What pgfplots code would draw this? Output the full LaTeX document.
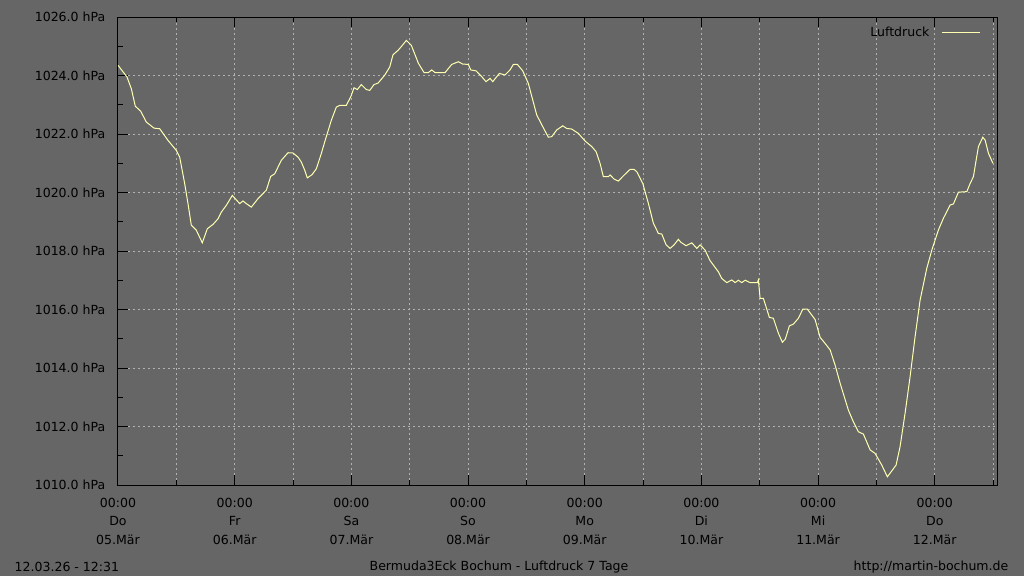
\documentclass[border=0pt]{standalone}
\usepackage{pgfplots}
\pgfplotsset{compat=1.18}
\usepackage{fontspec}
\setmainfont{DejaVu Sans}

\definecolor{bg}{RGB}{102,102,102}
\definecolor{gridc}{RGB}{178,178,178}
\definecolor{druck}{RGB}{255,255,176}

% Luftdruck, x in Stunden ab Do 05.03. 00:00
\newcommand\druckdaten{
(0.00,1024.35) (1.85,1023.95) (2.74,1023.55) (3.56,1022.95) (4.67,1022.78)
(5.82,1022.41) (7.41,1022.20) (8.58,1022.18) (10.29,1021.78) (11.99,1021.44)
(12.69,1021.21) (13.72,1020.30) (14.40,1019.62) (15.08,1018.88) (16.11,1018.71)
(17.34,1018.28) (18.37,1018.76) (19.54,1018.91) (20.57,1019.10) (21.25,1019.33)
(22.28,1019.56) (23.51,1019.90) (25.03,1019.62) (25.71,1019.71) (26.39,1019.62)
(27.42,1019.50) (28.80,1019.79) (30.51,1020.08) (31.41,1020.55) (32.24,1020.64)
(33.59,1021.10) (34.97,1021.36) (36.00,1021.35) (37.03,1021.21) (37.71,1021.04)
(38.41,1020.76) (38.94,1020.50) (39.91,1020.61) (40.79,1020.81) (41.70,1021.27)
(42.52,1021.73) (43.88,1022.47) (44.91,1022.92) (45.61,1022.98) (46.96,1022.98)
(47.87,1023.27) (48.55,1023.58) (49.23,1023.52) (50.05,1023.69) (51.08,1023.52)
(51.78,1023.49) (52.66,1023.69) (53.49,1023.74) (54.86,1024.01) (55.89,1024.29)
(56.57,1024.71) (57.60,1024.86) (58.28,1024.99) (59.31,1025.20) (60.34,1025.03)
(61.78,1024.42) (62.95,1024.10) (63.83,1024.10) (64.53,1024.19) (65.21,1024.10)
(67.27,1024.10) (68.65,1024.38) (70.00,1024.47) (70.91,1024.39) (72.06,1024.38)
(72.56,1024.19) (73.65,1024.16) (74.82,1023.96) (75.70,1023.79) (76.53,1023.90)
(77.08,1023.79) (78.44,1024.07) (79.61,1024.02) (80.64,1024.19) (81.32,1024.38)
(82.14,1024.38) (83.25,1024.16) (84.40,1023.73) (85.31,1023.16) (86.13,1022.65)
(87.37,1022.25) (88.52,1021.89) (89.22,1021.91) (90.25,1022.14) (91.48,1022.28)
(92.30,1022.19) (93.33,1022.17) (94.69,1022.02) (96.07,1021.76) (97.45,1021.57)
(98.33,1021.40) (99.15,1021.00) (99.83,1020.54) (100.86,1020.54) (101.21,1020.60)
(102.03,1020.46) (102.92,1020.39) (103.95,1020.57) (105.33,1020.79) (106.15,1020.79)
(106.71,1020.71) (107.94,1020.31) (109.09,1019.63) (110.12,1018.95) (111.15,1018.60)
(111.85,1018.58) (112.74,1018.21) (113.56,1018.09) (114.38,1018.21) (115.26,1018.40)
(115.76,1018.30) (116.85,1018.18) (118.02,1018.28) (119.05,1018.09) (119.73,1018.21)
(120.75,1018.03) (121.78,1017.67) (123.49,1017.29) (124.19,1017.06) (125.22,1016.92)
(126.25,1017.01) (126.93,1016.92) (127.60,1017.00) (128.30,1016.92) (129.00,1017.00)
(129.60,1016.95) (130.03,1016.92) (131.51,1016.92) (131.72,1017.01) (132.07,1016.38)
(132.75,1016.38) (133.98,1015.73) (134.80,1015.70) (135.83,1015.19) (136.65,1014.88)
(137.27,1014.99) (138.09,1015.44) (138.92,1015.50) (139.95,1015.70) (140.85,1016.01)
(141.80,1016.01) (143.38,1015.66) (144.41,1015.05) (145.44,1014.84) (146.47,1014.62)
(147.50,1014.10) (148.53,1013.48) (150.23,1012.56) (151.26,1012.16) (152.29,1011.82)
(153.32,1011.74) (154.70,1011.20) (155.73,1011.08) (157.10,1010.68) (158.25,1010.28)
(160.04,1010.68) (160.86,1011.31) (161.89,1012.45) (162.92,1013.70) (163.95,1015.07)
(164.98,1016.32) (166.36,1017.41) (167.39,1018.03) (168.75,1018.72) (169.78,1019.12)
(171.15,1019.57) (171.84,1019.61) (172.86,1020.01) (174.59,1020.03) (175.27,1020.31)
(175.95,1020.54) (176.51,1021.11) (176.98,1021.57) (177.88,1021.89) (178.36,1021.79)
(179.04,1021.34) (179.95,1021.00)
}

\begin{document}
\begin{tikzpicture}[x=0.75pt,y=0.75pt,font=\fontsize{9.4pt}{13.9pt}\selectfont]
\fill[bg] (0,0) rectangle (1024,576);
\begin{axis}[
    at={(88.5pt,68.25pt)}, anchor=south west,
    scale only axis, width=659.25pt, height=351pt,
    xmin=0, xmax=180.8, ymin=1010, ymax=1026,
    axis background/.style={fill=bg},
    axis line style={black, line width=0.75pt},
    tick style={black, line width=0.75pt},
    tick align=inside,
    xtick pos=both, ytick pos=left,
    major tick length=7.5pt, minor tick length=3.75pt,
    xtick={0,24,...,168},
    minor xtick={12,36,...,180},
    xticklabels={{00:00\\Do\\05.Mär},{00:00\\Fr\\06.Mär},{00:00\\Sa\\07.Mär},
      {00:00\\So\\08.Mär},{00:00\\Mo\\09.Mär},{00:00\\Di\\10.Mär},
      {00:00\\Mi\\11.Mär},{00:00\\Do\\12.Mär}},
    xticklabel style={align=center, yshift=-6pt},
    ytick={1010,1012,...,1026},
    minor ytick={1011,1013,...,1025},
    yticklabels={1010.0 hPa,1012.0 hPa,1014.0 hPa,1016.0 hPa,1018.0 hPa,
      1020.0 hPa,1022.0 hPa,1024.0 hPa,1026.0 hPa},
    yticklabel style={xshift=-6pt},
    xmajorgrids, xminorgrids, ymajorgrids,
    major grid style={gridc, line width=0.75pt, dash pattern=on 1.5pt off 2.25pt},
    minor grid style={gridc, line width=0.75pt, dash pattern=on 1.5pt off 2.25pt},
    legend plot pos=right,
    legend style={draw=none, fill=none, at={(0.986,0.966)}, anchor=east,
      font=\fontsize{9.4pt}{11pt}\selectfont},
    legend image code/.code={\path (0pt,0pt); \draw[#1] (7pt,0pt) -- (35.5pt,0pt);},
]
\addplot[druck, line width=0.75pt] coordinates {\druckdaten};
\addlegendentry{Luftdruck}
\end{axis}
\node[anchor=west] at (10,9) {12.03.26 - 12:31};
\node at (499,9) {Bermuda3Eck Bochum - Luftdruck 7 Tage};
\node[anchor=east] at (1013,9) {http://martin-bochum.de};
\pgfresetboundingbox
\path[use as bounding box] (0,0) rectangle (1024,576);
\end{tikzpicture}
\end{document}
